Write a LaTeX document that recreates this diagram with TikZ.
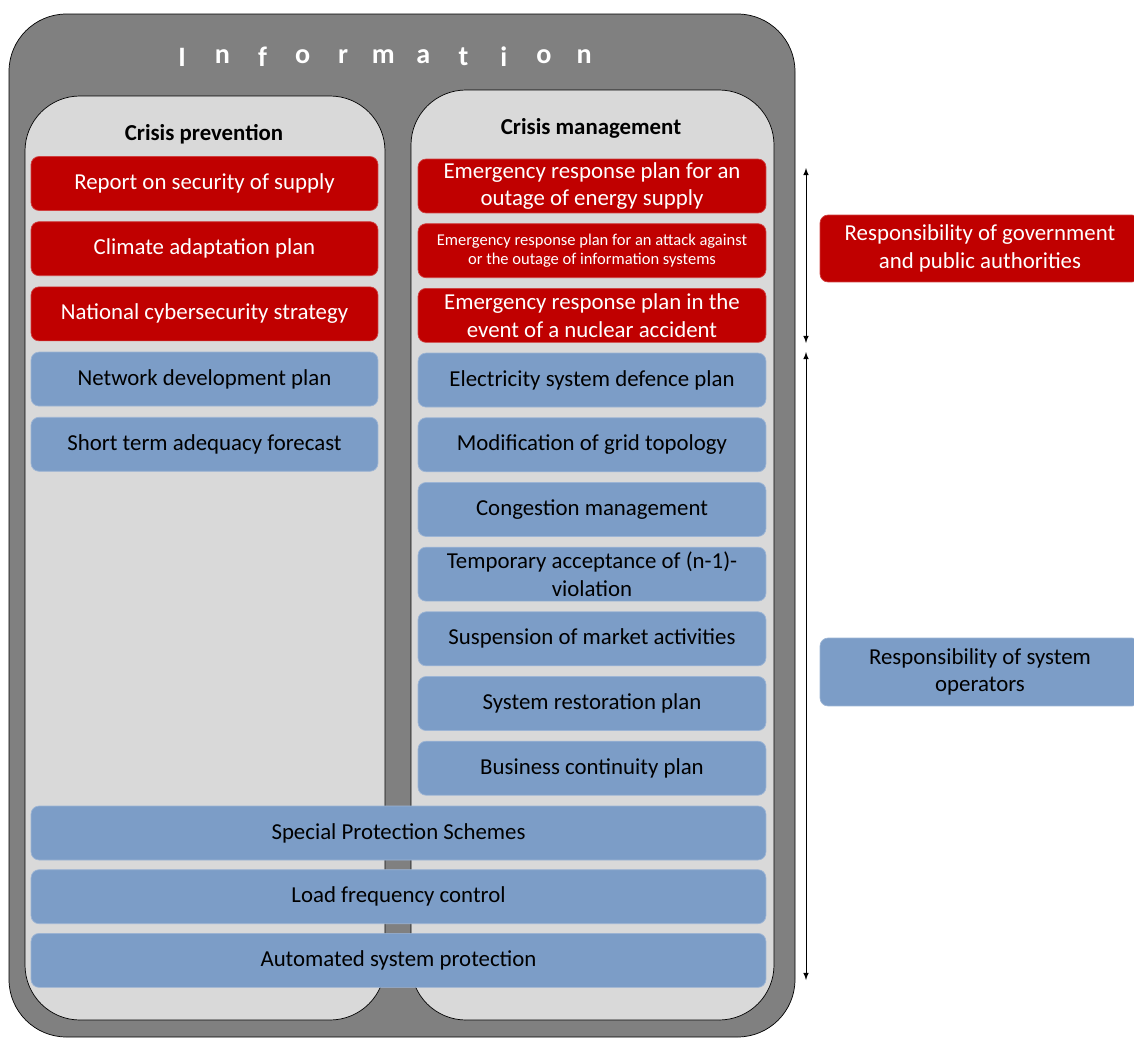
\documentclass[tikz,border=0pt]{standalone}
\usepackage{fontspec}
\setmainfont{Carlito}
\usetikzlibrary{positioning}
\definecolor{outergray}{RGB}{128,128,128}
\definecolor{panelgray}{RGB}{217,217,217}
\definecolor{govred}{RGB}{192,0,0}
\definecolor{tsoblue}{RGB}{124,157,199}
\tikzset{
    plan/.style={rounded corners=0.16cm, draw=#1!75!white, fill=#1, align=center,
        inner sep=1pt, minimum height=1.08cm, font=\fontsize{13}{15.8}\selectfont},
    redplan/.style={plan=govred, text=white},
    blueplan/.style={plan=tsoblue, text=black},
    panel/.style={draw=black, fill=panelgray, rounded corners=1.1cm},
}
\begin{document}
\begin{tikzpicture}[x=0.02cm, y=-0.02cm]
    \clip (0,0) rectangle (1134,1038);

    % Information frame
    \draw[fill=outergray, rounded corners=1.15cm] (9,14) rectangle (795,1037);
    \foreach \ch [count=\i] in {I,n,f,o,r,m,a,t,i,o,n}
        \node[text=white, font=\fontsize{16}{18}\bfseries\selectfont] (title\i) at (142+40.2*\i,57) {\ch};

    % Crisis prevention
    \draw[panel] (25,96) rectangle (385,1020);
    \node[font=\fontsize{13}{15.8}\bfseries\selectfont] (prevention) at (204,134) {Crisis prevention};
    \node[redplan, minimum width=6.94cm] (report) at (204.5,183.5) {Report on security of supply};
    \node[redplan, minimum width=6.94cm, below=0.21cm of report] (climate) {Climate adaptation plan};
    \node[redplan, minimum width=6.94cm, below=0.21cm of climate] (cyber) {National cybersecurity strategy};
    \node[blueplan, minimum width=6.94cm, below=0.21cm of cyber] (network) {Network development plan};
    \node[blueplan, minimum width=6.94cm, below=0.21cm of network] (adequacy) {Short term adequacy forecast};

    % Crisis management
    \draw[panel] (411,90) rectangle (774,1020);
    \node[font=\fontsize{13}{15.8}\bfseries\selectfont] (management) at (591,128) {Crisis management};
    \node[redplan, minimum width=6.96cm] (energy) at (592,186) {Emergency response plan for an\\outage of energy supply};
    \node[redplan, minimum width=6.96cm, below=0.2cm of energy, font=\fontsize{9.4}{11.3}\selectfont] (infosys)
        {Emergency response plan for an attack against\\or the outage of information systems};
    \node[redplan, minimum width=6.96cm, below=0.2cm of infosys] (nuclear) {Emergency response plan in the\\event of a nuclear accident};
    \node[blueplan, minimum width=6.96cm, below=0.2cm of nuclear] (defence) {Electricity system defence plan};
    \node[blueplan, minimum width=6.96cm, below=0.2cm of defence] (topology) {Modification of grid topology};
    \node[blueplan, minimum width=6.96cm, below=0.2cm of topology] (congestion) {Congestion management};
    \node[blueplan, minimum width=6.96cm, below=0.2cm of congestion] (violation) {Temporary acceptance of (n-1)-\\violation};
    \node[blueplan, minimum width=6.96cm, below=0.2cm of violation] (market) {Suspension of market activities};
    \node[blueplan, minimum width=6.96cm, below=0.2cm of market] (restoration) {System restoration plan};
    \node[blueplan, minimum width=6.96cm, below=0.2cm of restoration] (continuity) {Business continuity plan};

    % Measures spanning both columns
    \node[blueplan, minimum width=14.7cm] (sps) at (398.5,833) {Special Protection Schemes};
    \node[blueplan, minimum width=14.7cm, below=0.18cm of sps] (lfc) {Load frequency control};
    \node[blueplan, minimum width=14.7cm, below=0.18cm of lfc] (protection) {Automated system protection};

    % Responsibilities
    \coordinate (govtop) at (806,168);
    \coordinate (govbot) at (806,343);
    \coordinate (tsotop) at (806,352);
    \coordinate (tsobot) at (806,980);
    \draw[<->, >=latex, thin] (govtop) -- (govbot);
    \draw[<->, >=latex, thin] (tsotop) -- (tsobot);
    \node[redplan, minimum width=6.4cm, minimum height=1.34cm] (government) at (980,248.5)
        {Responsibility of government\\and public authorities};
    \node[blueplan, minimum width=6.4cm, minimum height=1.36cm] (operators) at (980,672)
        {Responsibility of system\\operators};
\end{tikzpicture}
\end{document}
